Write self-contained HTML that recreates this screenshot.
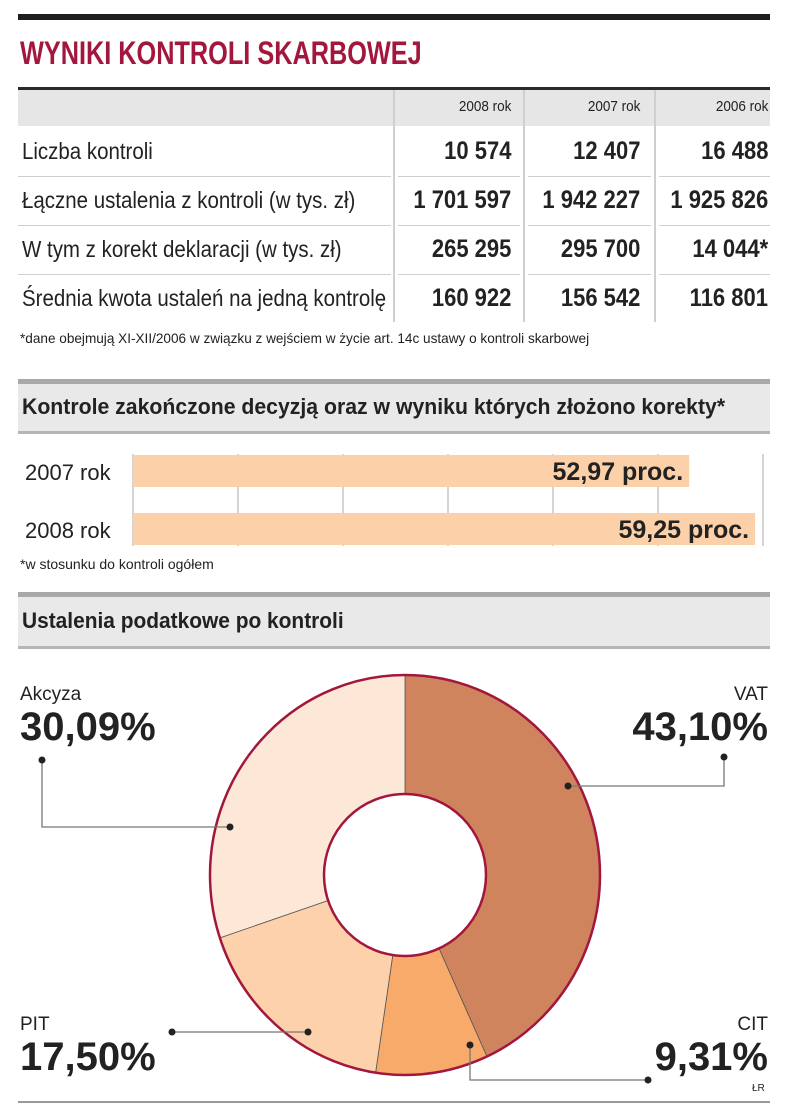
<!DOCTYPE html>
<html><head><meta charset="utf-8">
<style>
body{margin:0;background:#fff;width:805px;height:1116px;position:relative;overflow:hidden;font-family:"Liberation Sans",sans-serif;color:#222}
.a{position:absolute}
.c{display:inline-block;white-space:nowrap;transform-origin:left top}
.cr{display:inline-block;white-space:nowrap;transform-origin:right top}
.band{position:absolute;left:18px;width:752px;background:#e9e9e9;border-top:5px solid #a9a9a9;border-bottom:3px solid #b5b5b5;box-sizing:border-box}
</style></head><body>
<div class="a" style="left:18px;top:14px;width:752px;height:6px;background:#1e1e1e"></div>
<div class="a" style="left:20px;top:35px;font-size:32px;font-weight:bold;color:#a3173d;width:700px"><span class="c" style="transform:scaleX(.79)">WYNIKI KONTROLI SKARBOWEJ</span></div>

<div>
<div class="a" style="left:18px;top:87px;width:752px;height:39px;background:#e6e6e6;border-top:3px solid #2a2a2a;box-sizing:border-box"></div>
<div class="a" style="left:393px;top:90px;width:2px;height:232px;background:#cfcfcf"></div>
<div class="a" style="left:523px;top:90px;width:2px;height:232px;background:#cfcfcf"></div>
<div class="a" style="left:654px;top:90px;width:2px;height:232px;background:#cfcfcf"></div>
<div class="a" style="left:395px;top:98px;width:116px;font-size:15px;text-align:right"><span class="cr" style="transform:scaleX(.9)">2008 rok</span></div>
<div class="a" style="left:525px;top:98px;width:115px;font-size:15px;text-align:right"><span class="cr" style="transform:scaleX(.9)">2007 rok</span></div>
<div class="a" style="left:656px;top:98px;width:112px;font-size:15px;text-align:right"><span class="cr" style="transform:scaleX(.9)">2006 rok</span></div>
<div id="rows"></div>
<div class="a" style="left:20px;top:330px;font-size:14px;width:760px"><span class="c" style="transform:scaleX(.97)">*dane obejmują XI-XII/2006 w związku z wejściem w życie art. 14c ustawy o kontroli skarbowej</span></div>
</div>

<div class="band" style="top:379px;height:55px"></div>
<div class="a" style="left:22px;top:394px;font-size:22px;font-weight:bold;width:760px"><span class="c" style="transform:scaleX(.965)">Kontrole zakończone decyzją oraz w wyniku których złożono korekty*</span></div>
<svg class="a" id="bars" style="left:0;top:440px" width="805" height="120"></svg>
<div class="a" style="left:20px;top:556px;font-size:14px"><span class="c" style="transform:scaleX(1)">*w stosunku do kontroli ogółem</span></div>

<div class="band" style="top:592px;height:57px"></div>
<div class="a" style="left:22px;top:608px;font-size:22px;font-weight:bold"><span class="c" style="transform:scaleX(.95)">Ustalenia podatkowe po kontroli</span></div>
<svg class="a" id="pie" style="left:0;top:0" width="805" height="1116"></svg>
<div class="a" style="left:752px;top:1083px;font-size:10px">ŁR</div>
<div class="a" style="left:18px;top:1101px;width:752px;height:2px;background:#999"></div>

<script>
const rowLabels=["Liczba kontroli","Łączne ustalenia z kontroli (w tys. zł)","W tym z korekt deklaracji (w tys. zł)","Średnia kwota ustaleń na jedną kontrolę"];
const col2008=["10 574","1 701 597","265 295","160 922"];
const col2007=["12 407","1 942 227","295 700","156 542"];
const col2006=["16 488","1 925 826","14 044*","116 801"];
const rows=document.getElementById('rows');
rowLabels.forEach((l,i)=>{
  const y=128+i*49;
  let h='';
  h+=`<div class="a" style="left:22px;top:${y+10}px;font-size:23px;width:380px"><span class="c" style="transform:scaleX(.89)">${l}</span></div>`;
  [[395,116,col2008],[525,115,col2007],[656,112,col2006]].forEach(c=>{
    h+=`<div class="a" style="left:${c[0]}px;top:${y+9}px;width:${c[1]}px;text-align:right;font-size:25px;font-weight:bold"><span class="cr" style="transform:scaleX(.88)">${c[2][i]}</span></div>`;
  });
  if(i<3){
    h+=`<div class="a" style="left:18px;top:${y+48}px;width:373px;height:1px;background:#cfcfcf"></div>`;
    h+=`<div class="a" style="left:398px;top:${y+48}px;width:122px;height:1px;background:#cfcfcf"></div>`;
    h+=`<div class="a" style="left:528px;top:${y+48}px;width:123px;height:1px;background:#cfcfcf"></div>`;
    h+=`<div class="a" style="left:659px;top:${y+48}px;width:111px;height:1px;background:#cfcfcf"></div>`;
  }
  rows.insertAdjacentHTML('beforeend',h);
});

const barCats=["2007 rok","2008 rok"];
const barVals=[52.97,59.25];
const barLabels=["52,97 proc.","59,25 proc."];
const gridTicks=[0,10,20,30,40,50,60];
const NS='http://www.w3.org/2000/svg';
const bs=document.getElementById('bars');
const xs=v=>133+v*10.5;
function mk(tag,attrs,parent){const e=document.createElementNS(NS,tag);for(const k in attrs)e.setAttribute(k,attrs[k]);parent.appendChild(e);return e;}
gridTicks.forEach(t=>{
  const g=mk('line',{x1:xs(t),x2:xs(t),y1:14,y2:106,stroke:'#aaa','stroke-width':1},bs);
  
  
});
barCats.forEach((c,i)=>{
  const y=15+i*58;
  const r=mk('rect',{x:xs(0),y:y,width:xs(barVals[i])-xs(0),height:32,fill:'#fcd0a8'},bs);
  
  
  const t=mk('text',{x:xs(barVals[i])-6,y:y+25,'text-anchor':'end','font-size':25,'font-weight':'bold',fill:'#222','font-family':'Liberation Sans, sans-serif'},bs);
  t.textContent=barLabels[i];
  
  
  const l=mk('text',{x:25,y:y+25,'font-size':22,fill:'#222','font-family':'Liberation Sans, sans-serif'},bs);
  l.textContent=c;
  
  
});

const pieNames=["VAT","CIT","PIT","Akcyza"];
const pieVals=[43.10,9.31,17.50,30.09];
const pieLabels=["43,10%","9,31%","17,50%","30,09%"];
const pieColors=['#cf845e','#f7aa6a','#fdd1ab','#fde8d7'];
const ps=document.getElementById('pie');
const cx=405,cy=875,rx=195,ry=200,irx=81,iry=81;
const pt=(a,RX,RY)=>[cx+RX*Math.sin(a),cy-RY*Math.cos(a)];
const total=pieVals.reduce((a,b)=>a+b,0);
let acc=0;
pieVals.forEach((v,i)=>{
  const a0=acc/total*2*Math.PI;acc+=v;const a1=acc/total*2*Math.PI;
  const large=(a1-a0)>Math.PI?1:0;
  const p0=pt(a0,rx,ry),p1=pt(a1,rx,ry),q1=pt(a1,irx,iry),q0=pt(a0,irx,iry);
  const d=`M${p0}A${rx},${ry} 0 ${large} 1 ${p1}L${q1}A${irx},${iry} 0 ${large} 0 ${q0}Z`;
  const s=mk('path',{d:d,fill:pieColors[i],stroke:'#555','stroke-width':0.8},ps);
  
  
});
mk('ellipse',{cx:cx,cy:cy,rx:rx,ry:ry,fill:'none',stroke:'#a3173d','stroke-width':2.5},ps);
mk('ellipse',{cx:cx,cy:cy,rx:irx,ry:iry,fill:'#fff',stroke:'#a3173d','stroke-width':2.5},ps);
const F='Liberation Sans, sans-serif';
const labelPos=[[768,'end',700],[768,'end',1030],[20,'start',1030],[20,'start',700]];
const leaders=[[[724,757],[724,786],[568,786]],[[470,1045],[470,1080],[648,1080]],[[172,1032],[308,1032]],[[42,760],[42,827],[230,827]]];
pieNames.forEach((n,i)=>{
  const [x,anc,y]=labelPos[i];
  const t=mk('text',{x:x,y:y,'text-anchor':anc,'font-size':19,fill:'#222','font-family':F},ps);
  t.textContent=n;
  
  
  const v=mk('text',{x:x,y:y+40,'text-anchor':anc,'font-size':40,'font-weight':'bold',fill:'#222','font-family':F},ps);
  v.textContent=pieLabels[i];
  
  
  const L=leaders[i];
  const pl=mk('polyline',{points:L.map(p=>p.join(',')).join(' '),fill:'none',stroke:'#777','stroke-width':1.3},ps);
  
  
  [L[0],L[L.length-1]].forEach(p=>mk('circle',{cx:p[0],cy:p[1],r:3.5,fill:'#222'},ps));
});
</script>
</body></html>
